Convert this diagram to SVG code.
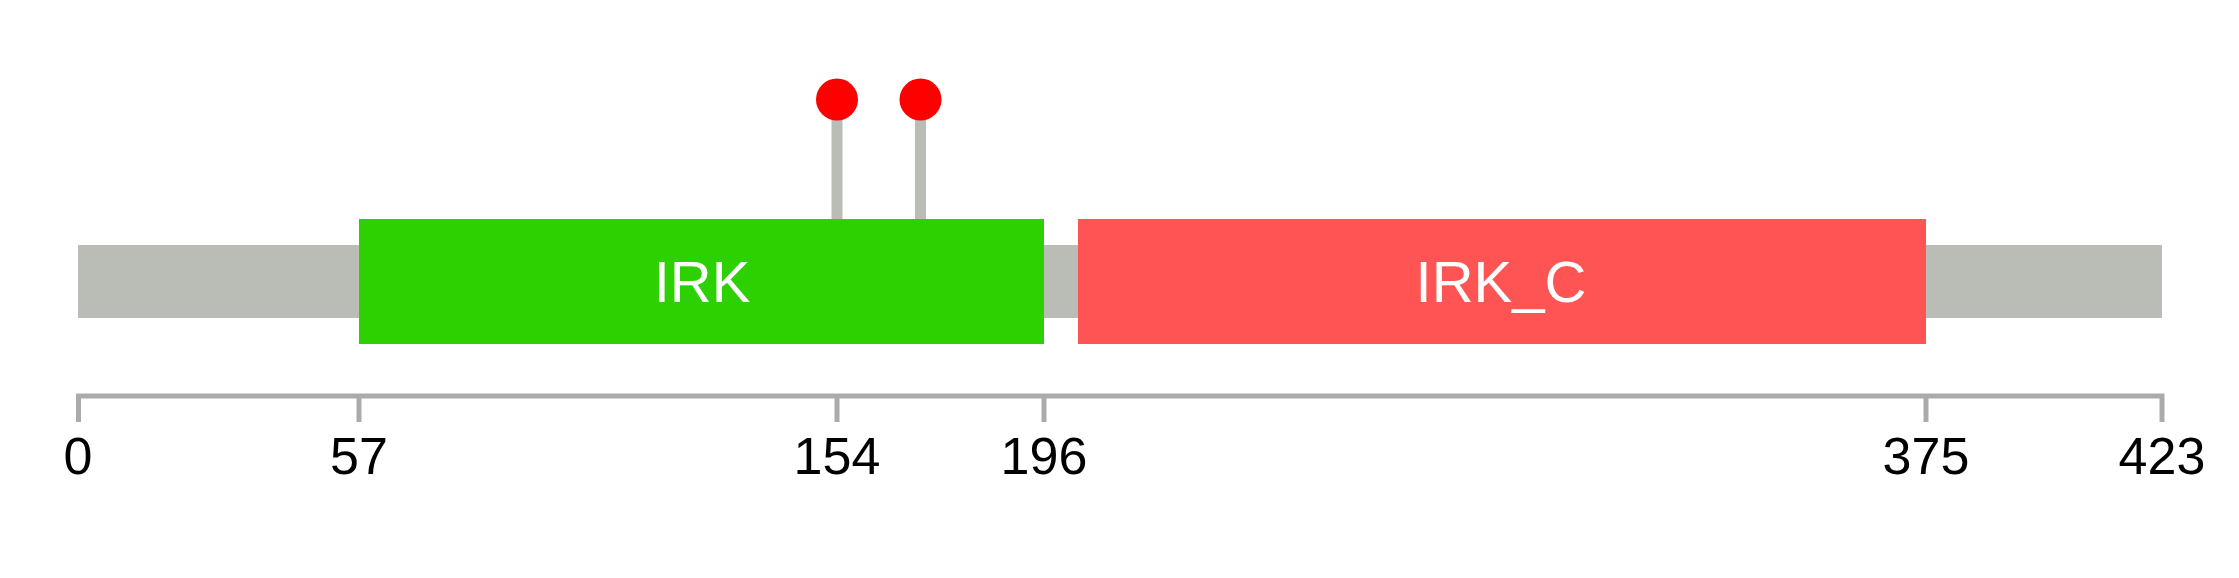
<svg xmlns="http://www.w3.org/2000/svg" width="2239" height="578" viewBox="0 0 2239 578">
<style>
.bb{fill:#babdb6}
.stem{stroke:#babdb6;stroke-width:11}
.dot{fill:#ff0000}
.ax{stroke:#ababab;stroke-width:5;fill:none}
.lab{font-family:"Liberation Sans",Arial,sans-serif;font-size:52px;fill:#000;text-anchor:middle}
.dl{font-family:"Liberation Sans",Arial,sans-serif;font-size:58px;fill:#fff;text-anchor:middle}
</style>
<rect width="2239" height="578" fill="#fff"/>
<g id="backbone"><rect class="bb" x="78" y="245" width="2084" height="73"/></g>
<g id="connectors">
<line class="stem" x1="837" y1="100" x2="837" y2="220"/>
<line class="stem" x1="920.5" y1="100" x2="920.5" y2="220"/>
</g>
<g id="domain-IRK">
<rect x="359" y="219" width="685" height="125" fill="#2dd000"/>
<text class="dl" x="702" y="302">IRK</text>
</g>
<g id="domain-IRK_C">
<rect x="1078" y="219" width="848" height="125" fill="#ff5454"/>
<text class="dl" x="1501" y="302">IRK_C</text>
</g>
<g id="site-1"><circle class="dot" cx="837" cy="99.5" r="21"/></g>
<g id="site-2"><circle class="dot" cx="920.5" cy="99.5" r="21"/></g>
<g id="axis">
<path class="ax" d="M78.5 422V396H2162V422"/>
<path class="ax" d="M359 396V422M837 396V422M1044 396V422M1926 396V422"/>
<text class="lab" x="78" y="474">0</text>
<text class="lab" x="359" y="474">57</text>
<text class="lab" x="837" y="474">154</text>
<text class="lab" x="1044" y="474">196</text>
<text class="lab" x="1926" y="474">375</text>
<text class="lab" x="2162" y="474">423</text>
</g>
</svg>
